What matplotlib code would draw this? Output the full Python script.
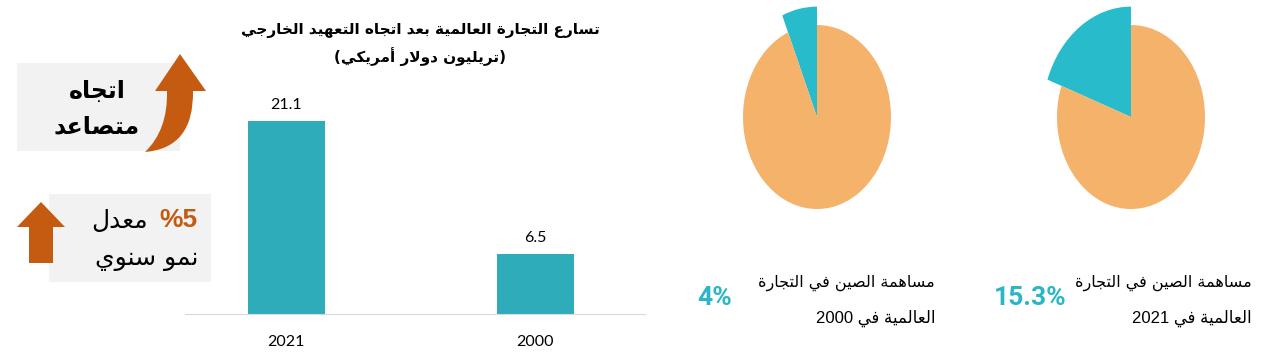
import re
import matplotlib
matplotlib.use('Agg')
import matplotlib.pyplot as plt
from matplotlib.patches import Rectangle, Polygon, PathPatch
from matplotlib.path import Path

# bar chart: world trade (trillion USD)
years = ['2021', '2000']
trade = [21.1, 6.5]

# pies: china share of world trade (wedge size as drawn in the picture)
pie_years = ['2021', '2000']
china_share = [19.5, 6.4]
share_labels = ['15.3%', '4%']

BAR_C = '#2eacba'
PIE_ORANGE = '#f5b26b'
PIE_TEAL = '#27bbcb'
ARROW_C = '#c55a11'
BOX_C = '#f2f2f2'

# --- tiny arabic shaper (matplotlib has no shaping / bidi) ---
AR_FORMS = {
    'ا': (0xFE8D, 2), 'أ': (0xFE83, 2), 'ب': (0xFE8F, 4), 'ة': (0xFE93, 2),
    'ت': (0xFE95, 4), 'ج': (0xFE9D, 4), 'خ': (0xFEA5, 4), 'د': (0xFEA9, 2),
    'ر': (0xFEAD, 2), 'س': (0xFEB1, 4), 'ص': (0xFEB9, 4), 'ع': (0xFEC9, 4),
    'ف': (0xFED1, 4), 'ك': (0xFED9, 4), 'ل': (0xFEDD, 4), 'م': (0xFEE1, 4),
    'ن': (0xFEE5, 4), 'ه': (0xFEE9, 4), 'و': (0xFEED, 2), 'ي': (0xFEF1, 4),
}
LAM_ALEF = {'ا': (0xFEFB, 0xFEFC), 'أ': (0xFEF7, 0xFEF8)}


def ar(text):
    ch = list(text)
    n = len(ch)
    res = []
    i = 0
    while i < n:
        c = ch[i]
        if c not in AR_FORMS:
            res.append(c)
            i += 1
            continue
        p = i > 0 and ch[i-1] in AR_FORMS and AR_FORMS[ch[i-1]][1] == 4
        if c == 'ل' and i+1 < n and ch[i+1] in LAM_ALEF:
            iso, fin = LAM_ALEF[ch[i+1]]
            res.append(chr(fin if p else iso))
            i += 2
            continue
        base, k = AR_FORMS[c]
        nx = k == 4 and i+1 < n and ch[i+1] in AR_FORMS
        if p and nx:
            f = base + 3
        elif p:
            f = base + 1
        elif nx:
            f = base + 2
        else:
            f = base
        res.append(chr(f))
        i += 1
    s = ''.join(reversed(res))
    s = s.translate(str.maketrans('()', ')('))
    s = re.sub(r'[0-9.]+', lambda m: m.group(0)[::-1], s)
    return s


W, H = 1283, 355
fig = plt.figure(figsize=(W/100, H/100), dpi=100)

# overlay in pixel coords for boxes, arrows and free text
ov = fig.add_axes([0, 0, 1, 1])
ov.set_xlim(0, W)
ov.set_ylim(H, 0)
ov.axis('off')

ov.add_patch(Rectangle((17, 63), 163, 88, color=BOX_C, lw=0))
ov.add_patch(Rectangle((49, 194), 162, 88, color=BOX_C, lw=0))

# curved arrow
verts = [(145, 152), (168, 130), (167, 91), (155, 91), (180, 54), (206, 91),
         (193, 91), (194, 148), (145, 152), (145, 152)]
codes = [Path.MOVETO, Path.CURVE3, Path.CURVE3, Path.LINETO, Path.LINETO,
         Path.LINETO, Path.LINETO, Path.CURVE3, Path.CURVE3, Path.CLOSEPOLY]
ov.add_patch(PathPatch(Path(verts, codes), color=ARROW_C, lw=0))
# straight arrow
ov.add_patch(Polygon([(29, 263), (29, 227), (17, 227), (41, 202), (65, 227),
                      (53, 227), (53, 263)], color=ARROW_C, lw=0))

AR_FONT = ['DejaVu Sans']
MIX_FONT = ['Liberation Sans', 'DejaVu Sans']

ov.text(97, 91, ar('اتجاه'), ha='center', va='center', fontsize=17,
        fontweight='bold', family=AR_FONT)
ov.text(97, 126, ar('متصاعد'), ha='center', va='center', fontsize=17,
        fontweight='bold', family=AR_FONT)

ov.text(198, 220, '%5', ha='right', va='center', fontsize=19,
        fontweight='bold', color=ARROW_C, family=MIX_FONT)
ov.text(148, 221, ar('معدل'), ha='right', va='center', fontsize=18,
        family=AR_FONT)
ov.text(198, 259, ar('نمو سنوي'), ha='right', va='center', fontsize=18,
        family=AR_FONT)

ov.text(420, 31, ar('تسارع التجارة العالمية بعد اتجاه التعهيد الخارجي'),
        ha='center', va='center', fontsize=11, fontweight='bold', family=AR_FONT)
ov.text(420, 57, ar('(تريليون دولار أمريكي)'),
        ha='center', va='center', fontsize=11, fontweight='bold', family=AR_FONT)

# --- bar chart ---
ax = fig.add_axes([185/W, 1 - 314/H, 460/W, 229/H])
ax.set_facecolor('none')
x = list(range(len(years)))
ax.bar(x, trade, width=0.31, color=BAR_C)
for xi, v in zip(x, trade):
    ax.text(xi, v + 1.0, f'{v}', ha='center', va='bottom', fontsize=11.5,
            family='Lato')
ax.set_xticks(x)
ax.set_xticklabels(years, fontsize=11.5, family='Lato')
ax.tick_params(axis='x', length=0, pad=15)
ax.set_yticks([])
ax.set_xlim(-0.406, 1.44)
ax.set_ylim(0, 25)
for s in ['left', 'right', 'top']:
    ax.spines[s].set_visible(False)
ax.spines['bottom'].set_color('#d9d9d9')

# --- pies (squashed ellipses, teal wedge pulled out with larger radius) ---
pie_cx = [1131, 817]
for cx, share in zip(pie_cx, china_share):
    pa = fig.add_axes([(cx - 111)/W, 1 - 230/H, 222/W, 230/H])
    wedges, _ = pa.pie([share, 100 - share], colors=[PIE_TEAL, PIE_ORANGE],
                       startangle=90, counterclock=True, radius=1,
                       wedgeprops=dict(linewidth=0))
    wedges[0].set_radius(1.2)
    pa.set_aspect('auto')
    pa.set_xlim(-1.5, 1.5)
    pa.set_ylim(-1.228, 1.272)
    pa.axis('off')

# captions under pies
cap_right = [1252, 935]
pct_x = [1030, 715]
for yr, lab, xr, px in zip(pie_years, share_labels, cap_right, pct_x):
    ov.text(xr, 283, ar('مساهمة الصين في التجارة'), ha='right', va='center',
            fontsize=11.5, family=AR_FONT)
    ov.text(xr, 318, ar('العالمية في ' + yr), ha='right', va='center',
            fontsize=12, family=MIX_FONT)
    ov.text(px, 298, lab, ha='center', va='center', fontsize=19,
            fontweight='bold', color='#2bb6c6', family=['Roboto', 'DejaVu Sans'])

fig.savefig('out.png', dpi=100)
